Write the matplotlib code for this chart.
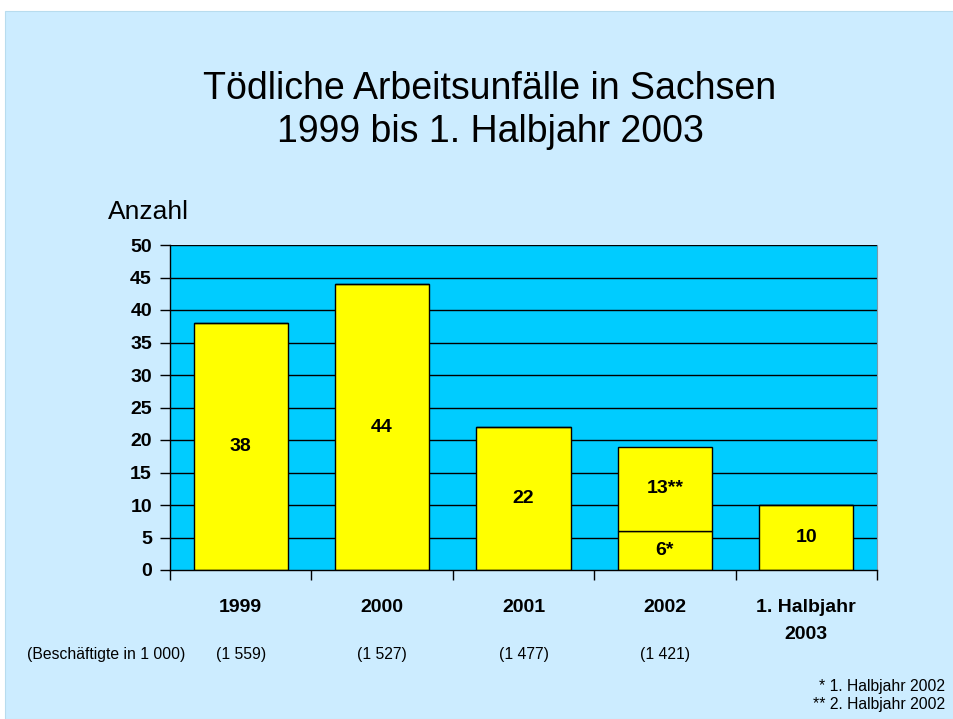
import matplotlib
matplotlib.use("Agg")
import matplotlib.pyplot as plt
from matplotlib.patches import Rectangle

plt.rcParams['font.family'] = ['Liberation Sans', 'DejaVu Sans']

categories = ["1999", "2000", "2001", "2002", "1. Halbjahr\n2003"]
values_lower = [38, 44, 22, 6, 10]
values_upper = [0, 0, 0, 13, 0]
labels_lower = ["38", "44", "22", "6*", "10"]
labels_upper = ["", "", "", "13**", ""]
employees = ["(1 559)", "(1 527)", "(1 477)", "(1 421)", ""]
yticks = [0, 5, 10, 15, 20, 25, 30, 35, 40, 45, 50]

W, H = 954, 719
fig = plt.figure(figsize=(W / 100, H / 100), dpi=100)
fig.patch.set_facecolor("white")
fig.add_artist(Rectangle((5 / W, 0), 1 - 5 / W, 1 - 11 / H, transform=fig.transFigure,
                         facecolor="#CCECFF", edgecolor="#b8dcee", lw=0.8, zorder=0))

left, right, top, bottom = 170, 877, 245, 570
ax = fig.add_axes([left / W, 1 - bottom / H, (right - left) / W, (bottom - top) / H])
ax.set_facecolor("#00CCFF")
ax.set_xlim(0, len(categories))
ax.set_ylim(0, 50)

for y in yticks[1:]:
    ax.axhline(y, color="black", lw=1.0, zorder=1)

x = [i + 0.5 for i in range(len(categories))]
bw = 0.665
ax.bar(x, values_lower, width=bw, color="#FFFF00", edgecolor="black", lw=1.0, zorder=2)
ax.bar(x, values_upper, width=bw, bottom=values_lower, color="#FFFF00", edgecolor="black", lw=1.0, zorder=2)

for xi, v, lab in zip(x, values_lower, labels_lower):
    ax.text(xi, v / 2, lab, ha="center", va="center", fontsize=14, fontweight="bold", zorder=3)
for xi, lo, v, lab in zip(x, values_lower, values_upper, labels_upper):
    if v:
        ax.text(xi, lo + v / 2, lab, ha="center", va="center", fontsize=14, fontweight="bold", zorder=3)

ax.spines["top"].set_visible(False)
ax.spines["right"].set_color("#7a9aa8")
ax.spines["right"].set_linewidth(0.8)
ax.spines["left"].set_linewidth(1.0)
ax.spines["bottom"].set_linewidth(1.0)

ax.set_yticks(yticks)
ax.set_yticklabels([str(t) for t in yticks], fontsize=14, fontweight="bold")
ax.tick_params(axis="y", length=7, width=1.0, pad=6)
ax.set_xticks(range(len(categories) + 1))
ax.set_xticklabels([])
ax.tick_params(axis="x", length=7, width=1.0, direction="out")

for xi, c in zip(x, categories):
    ax.text(xi, -4.5, c, ha="center", va="top", fontsize=14, fontweight="bold",
            linespacing=1.75, transform=ax.transData, clip_on=False)

fig.text(490 / W, 1 - 89 / H, "Tödliche Arbeitsunfälle in Sachsen", ha="center", va="center", fontsize=27)
fig.text(490 / W, 1 - 132 / H, "1999 bis 1. Halbjahr 2003", ha="center", va="center", fontsize=27)
fig.text(108 / W, 1 - 212 / H, "Anzahl", ha="left", va="center", fontsize=19)

row_y = 1 - 655 / H
fig.text(27 / W, row_y, "(Beschäftigte in 1 000)", ha="left", va="center", fontsize=11.3)
for xi, e in zip(x, employees):
    if e:
        px = left + xi / len(categories) * (right - left)
        fig.text(px / W, row_y, e, ha="center", va="center", fontsize=11.3)

fig.text(945 / W, 1 - 686 / H, "* 1. Halbjahr 2002", ha="right", va="center", fontsize=11.3)
fig.text(945 / W, 1 - 704 / H, "** 2. Halbjahr 2002", ha="right", va="center", fontsize=11.3)

fig.savefig("out.png", dpi=100, facecolor=fig.get_facecolor())
